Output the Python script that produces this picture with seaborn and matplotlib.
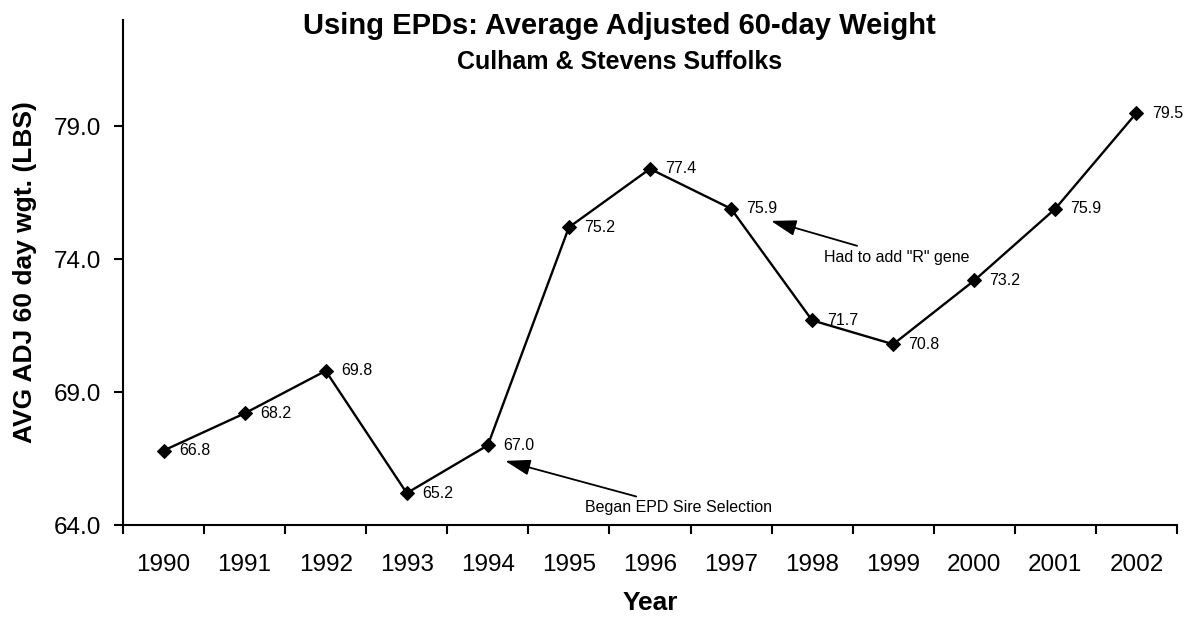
import matplotlib
matplotlib.use("Agg")
import matplotlib.pyplot as plt
import seaborn as sns
import pandas as pd

years = ["1990", "1991", "1992", "1993", "1994", "1995", "1996",
         "1997", "1998", "1999", "2000", "2001", "2002"]
weights = [66.8, 68.2, 69.8, 65.2, 67.0, 75.2, 77.4,
           75.9, 71.7, 70.8, 73.2, 75.9, 79.5]
y_ticks = [64.0, 69.0, 74.0, 79.0]

sns.set_style("ticks")
plt.rcParams["font.family"] = ["Liberation Sans", "DejaVu Sans"]
for key in ("text.color", "axes.labelcolor", "xtick.color", "ytick.color",
            "axes.edgecolor"):
    plt.rcParams[key] = "black"

df = pd.DataFrame({"pos": range(len(years)), "weight": weights})

fig = plt.figure(figsize=(11.85, 6.17), dpi=100)
ax = fig.add_axes([0.1038, 0.1491, 0.8894, 0.8185])

sns.lineplot(data=df, x="pos", y="weight", ax=ax, color="black",
             linewidth=1.7, marker="D", markersize=7.5,
             markerfacecolor="black", markeredgecolor="black")

# value labels beside each point
for i, v in enumerate(weights):
    ax.annotate(f"{v:.1f}", (i, v), xytext=(11, 0), textcoords="offset points",
                ha="left", va="center", fontsize=11.5)

ax.set_xlim(-0.5, len(years) - 0.5)
ax.set_ylim(64.0, 83.0)
ax.set_yticks(y_ticks)
ax.set_yticklabels([f"{t:.1f}" for t in y_ticks], fontsize=17.5)

# category labels centred, tick marks on the boundaries between them
ax.set_xticks(range(len(years)))
ax.set_xticklabels(years, fontsize=17.5)
ax.tick_params(axis="x", which="major", length=0, pad=21)
ax.set_xticks([i - 0.5 for i in range(len(years) + 1)], minor=True)
ax.tick_params(axis="x", which="minor", length=6.5, width=1.5, direction="out")
ax.tick_params(axis="y", length=6.5, width=1.5, direction="out", pad=9)

for side in ("left", "bottom"):
    ax.spines[side].set_linewidth(1.5)
sns.despine(ax=ax)

ax.set_xlabel("Year", fontsize=19, fontweight="bold", labelpad=11)
ax.set_ylabel("AVG ADJ 60 day wgt. (LBS)", fontsize=19, fontweight="bold",
              labelpad=12)

fig.text(0.523, 0.958, "Using EPDs: Average Adjusted 60-day Weight",
         ha="center", va="center", fontsize=21, fontweight="bold")
fig.text(0.523, 0.9, "Culham & Stevens Suffolks",
         ha="center", va="center", fontsize=18, fontweight="bold")

arrow = dict(arrowstyle="-|>,head_length=0.7,head_width=0.22", color="black",
             lw=1.3, mutation_scale=22)
ax.annotate("Began EPD Sire Selection", xy=(4.18, 66.44), xytext=(5.2, 64.64),
            fontsize=11.5, ha="left", va="center", arrowprops=arrow)
ax.annotate('Had to add "R" gene', xy=(7.46, 75.47), xytext=(8.15, 74.07),
            fontsize=11.5, ha="left", va="center", arrowprops=arrow)

fig.savefig("out.png", dpi=100)
